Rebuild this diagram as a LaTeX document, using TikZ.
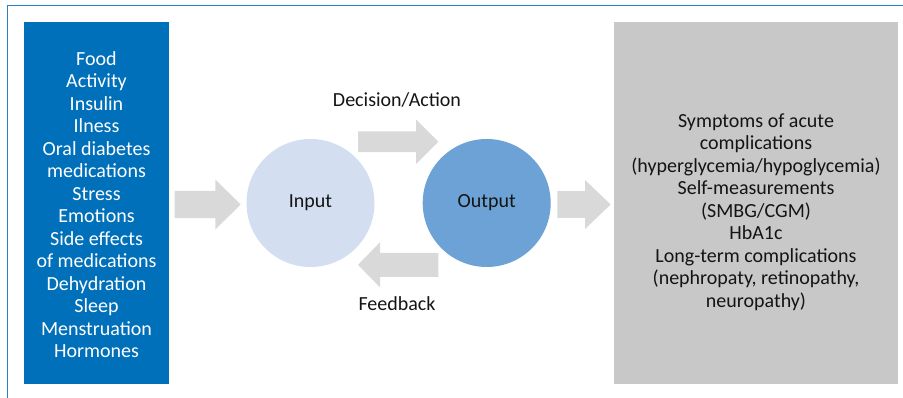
\documentclass[tikz,border=0pt]{standalone}
\usepackage{fontspec}
\setmainfont{Carlito}
\definecolor{boxblue}{RGB}{0,112,186}
\definecolor{boxgray}{RGB}{200,200,200}
\definecolor{inputfill}{RGB}{211,223,241}
\definecolor{outputfill}{RGB}{108,162,214}
\definecolor{arrowgray}{RGB}{217,217,217}
\definecolor{framecol}{RGB}{40,128,202}
\definecolor{textcol}{RGB}{20,20,20}
\tikzset{
  x=1pt, y=-1pt,
  txt/.style={font=\fontsize{20}{22.5}\selectfont, text=textcol, inner sep=0pt, align=center},
  stage/.style={circle, minimum size=128pt, inner sep=0pt, draw=none, font=\fontsize{20}{22}\selectfont, text=textcol},
  blockarrow/.style={fill=arrowgray, draw=none}
}
% block arrow: #1 tail x, #2 head base x, #3 tip x, #4 centre y, #5 shaft half width, #6 head half width
\newcommand{\blockarrowpath}[6]{%
  \fill[blockarrow] (#1,#4-#5) -- (#2,#4-#5) -- (#2,#4-#6) -- (#3,#4) -- (#2,#4+#6) -- (#2,#4+#5) -- (#1,#4+#5) -- cycle;}
\begin{document}
\begin{tikzpicture}
\useasboundingbox (0,0) rectangle (903,398);
% frame lines
\draw[framecol, line width=1.4pt] (7.5,398) -- (7.5,5.8) -- (903,5.8);

% side boxes
\fill[boxblue] (24,22) rectangle (169,384);
\node[txt, text=white, anchor=base] (factors) at (96.5,357.8) {Food\\Activity\\Insulin\\Ilness\\Oral diabetes\\medications\\Stress\\Emotions\\Side effects\\of medications\\Dehydration\\Sleep\\Menstruation\\Hormones};
\fill[boxgray] (614,22) rectangle (898,384);
\node[txt, anchor=base] (results) at (756,307.5) {Symptoms of acute\\complications\\(hyperglycemia/hypoglycemia)\\Self-measurements\\(SMBG/CGM)\\HbA1c\\Long-term complications\\(nephropaty, retinopathy,\\neuropathy)};

% stages
\node[stage, fill=inputfill] (input) at (310.5,203) {Input};
\node[stage, fill=outputfill] (output) at (486.7,203) {Output};

% block arrows
\blockarrowpath{174.7}{215.3}{240.7}{204.5}{13.7}{25}
\blockarrowpath{358}{416}{438.3}{141.7}{10.4}{22.3}
\blockarrowpath{438.3}{380}{358}{264.8}{12}{22.6}
\blockarrowpath{557.3}{585}{610.7}{204.5}{13.3}{24.5}

% arrow labels
\node[txt] (decision) at (397,100) {Decision/Action};
\node[txt] (feedback) at (397,303.5) {Feedback};
\end{tikzpicture}
\end{document}
